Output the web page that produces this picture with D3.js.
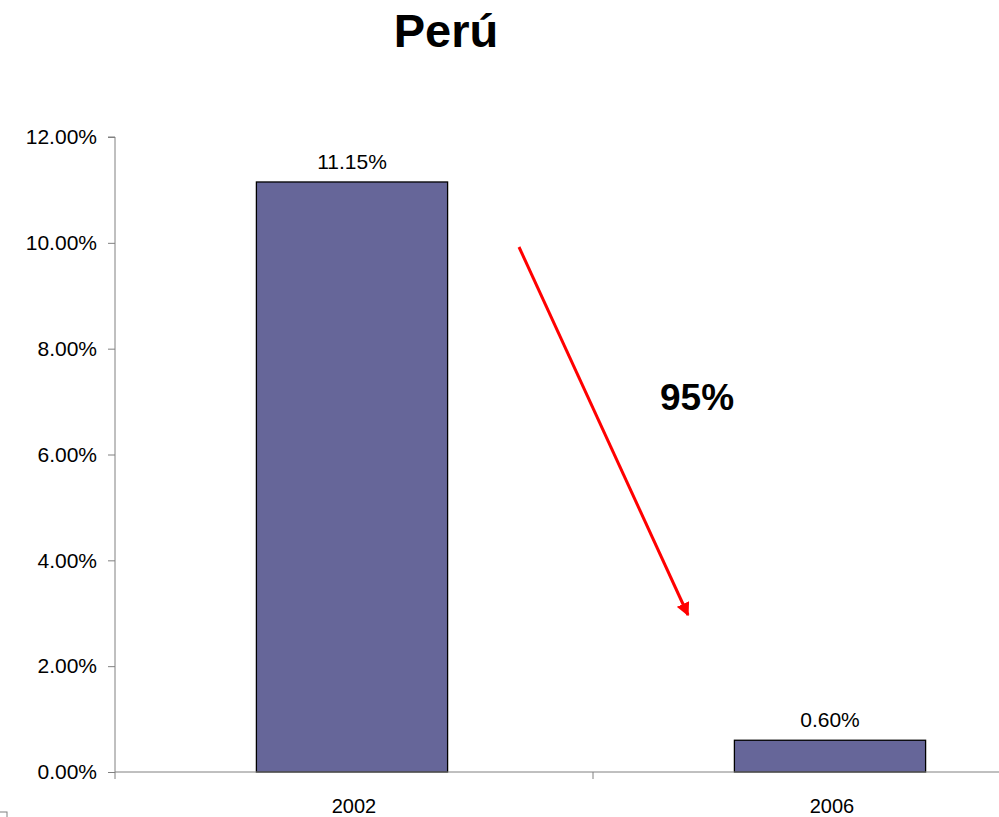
<!DOCTYPE html>
<html>
<head>
<meta charset="utf-8">
<script src="https://cdn.jsdelivr.net/npm/d3@7"></script>
<style>
  body { margin: 0; background: #fff; }
  svg { font-family: "Liberation Sans", Arial, sans-serif; display: block; }
</style>
</head>
<body>
<div id="chart"></div>
<script>
// chart data
const years = ["2002", "2006"]
const rates = [11.15, 0.60]
const yTicks = [0, 2, 4, 6, 8, 10, 12]
const changeLabel = "95%"

const width = 999, height = 817
const plotLeft = 115, plotTop = 137, plotBottom = 772
const plotRight = 1071 // plot runs past the right edge of the picture

const svg = d3.select("#chart").append("svg")
    .attr("width", width)
    .attr("height", height)

// bars sit a touch left of the band centres in the original
const x = d3.scaleBand()
    .domain(years)
    .range([plotLeft - 2, plotRight - 2])
    .paddingInner(0.6)
    .paddingOuter(0.3)

const y = d3.scaleLinear()
    .domain([0, 12])
    .range([plotBottom, plotTop])

// title
svg.append("text")
    .attr("x", 446).attr("y", 47)
    .attr("text-anchor", "middle")
    .style("font-size", "47px")
    .style("font-weight", "bold")
    .text("Perú")

// bars
svg.selectAll(".bar")
  .data(rates)
  .enter()
  .append("rect")
    .attr("x", (d, i) => x(years[i]))
    .attr("y", d => y(d))
    .attr("width", x.bandwidth())
    .attr("height", d => y(0) - y(d))
    .attr("fill", "#666699")
    .attr("stroke", "#000")
    .attr("stroke-width", 1.3)

// value labels
svg.selectAll(".val")
  .data(rates)
  .enter()
  .append("text")
    .attr("x", (d, i) => x(years[i]) + x.bandwidth() / 2)
    .attr("y", d => y(d) - 13)
    .attr("text-anchor", "middle")
    .style("font-size", "21px")
    .text(d => d.toFixed(2) + "%")

// y axis
const yAxis = d3.axisLeft(y)
    .tickValues(yTicks)
    .tickSize(7)
    .tickPadding(11)
    .tickFormat(d => d.toFixed(2) + "%")
const gy = svg.append("g")
    .attr("transform", "translate(" + plotLeft + ",0)")
    .call(yAxis)
gy.select(".domain").attr("stroke", "#808080").attr("d", "M-7," + plotTop + "H0V" + plotBottom)
gy.selectAll(".tick line").attr("stroke", "#808080")
gy.selectAll(".tick text").style("font-size", "21px").attr("fill", "#000").style("font-family", "Liberation Sans, Arial, sans-serif")

// x axis line with ticks between categories
const xBounds = [plotLeft, (plotLeft + plotRight) / 2, plotRight]
svg.append("line")
    .attr("x1", plotLeft).attr("x2", plotRight)
    .attr("y1", plotBottom).attr("y2", plotBottom)
    .attr("stroke", "#808080")
svg.selectAll(".xtick")
  .data(xBounds)
  .enter()
  .append("line")
    .attr("x1", d => d).attr("x2", d => d)
    .attr("y1", plotBottom).attr("y2", plotBottom + 7)
    .attr("stroke", "#808080")

svg.selectAll(".cat")
  .data(years)
  .enter()
  .append("text")
    .attr("x", d => x(d) + x.bandwidth() / 2 + 2)
    .attr("y", 813)
    .attr("text-anchor", "middle")
    .style("font-size", "20px")
    .text(d => d)

// red arrow annotation
svg.append("defs").append("marker")
    .attr("id", "head")
    .attr("viewBox", "0 0 10 10")
    .attr("refX", 9).attr("refY", 5)
    .attr("markerWidth", 4.5).attr("markerHeight", 4.5)
    .attr("markerUnits", "strokeWidth")
    .attr("orient", "auto")
  .append("path")
    .attr("d", "M0,0L10,5L0,10z")
    .attr("fill", "#ff0000")

svg.append("line")
    .attr("x1", 519).attr("y1", 247)
    .attr("x2", 688).attr("y2", 615)
    .attr("stroke", "#ff0000")
    .attr("stroke-width", 3)
    .attr("marker-end", "url(#head)")

svg.append("text")
    .attr("x", 660).attr("y", 410)
    .style("font-size", "37px")
    .style("font-weight", "bold")
    .text(changeLabel)

// small box in the lower left corner
svg.append("rect")
    .attr("x", -1).attr("y", 812)
    .attr("width", 8).attr("height", 8)
    .attr("fill", "none")
    .attr("stroke", "#808080")
</script>
</body>
</html>
